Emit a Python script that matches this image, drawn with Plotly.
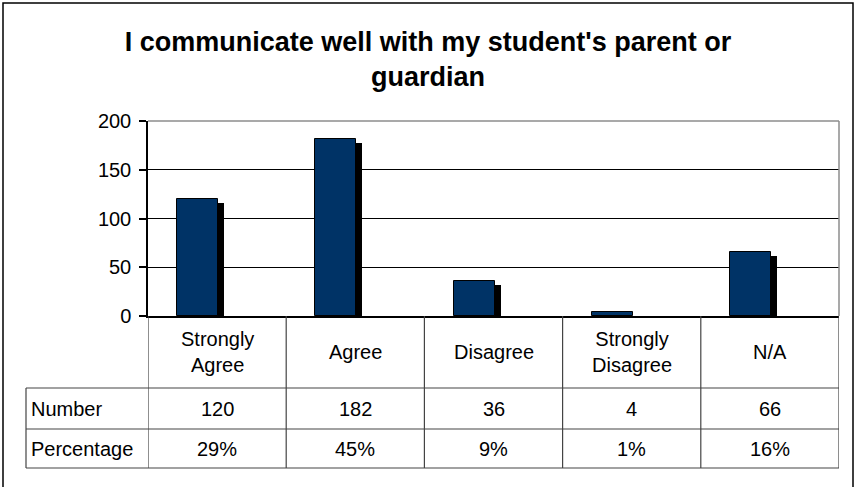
import plotly.graph_objects as go

# ---- data ----
categories = ["Strongly<br>Agree", "Agree", "Disagree", "Strongly<br>Disagree", "N/A"]
counts = [120, 182, 36, 4, 66]
percent_labels = ["29%", "45%", "9%", "1%", "16%"]
row_labels = ["Number", "Percentage"]
title_text = "I communicate well with my student's parent or<br>guardian"

# ---- layout constants (pixels) ----
W, H = 856, 487
L, R, T, B = 148, 17, 121, 171
plot_h = H - T - B
FONT = "Liberation Sans, Arial, sans-serif"
BAR_COLOR = "#003366"

def py(p):
    """pixel y (from top of page) -> paper y"""
    return (H - B - p) / plot_h

def px(p):
    plot_w = W - L - R
    return (p - L) / plot_w

n = len(categories)
xs = list(range(n))
bar_off = -0.14
bar_w = 0.297
shadow_dx = 0.043
shadow_dy = 4.2

fig = go.Figure()
# shadows
fig.add_trace(go.Bar(
    x=[x + bar_off + shadow_dx for x in xs],
    y=[max(v - shadow_dy, 0) for v in counts],
    width=bar_w, marker=dict(color="black", line=dict(width=0)),
    hoverinfo="skip", showlegend=False))
# bars
fig.add_trace(go.Bar(
    x=[x + bar_off for x in xs], y=counts, width=bar_w,
    marker=dict(color=BAR_COLOR, line=dict(color="black", width=1)),
    showlegend=False))

shapes = []
line_col = "#444444"
# plot-area top and right border (gray)
shapes.append(dict(type="line", xref="paper", yref="paper", x0=0, x1=1, y0=1, y1=1,
                   line=dict(color="#8c8c8c", width=1.5), layer="above"))
shapes.append(dict(type="line", xref="paper", yref="paper", x0=1, x1=1, y0=0, y1=1,
                   line=dict(color="#8c8c8c", width=1.5), layer="above"))
# table horizontal lines
for yy in [388, 429, 468]:
    shapes.append(dict(type="line", xref="paper", yref="paper", x0=px(26), x1=1,
                       y0=py(yy), y1=py(yy), line=dict(color=line_col, width=1.2)))
# table vertical lines at category boundaries
for i in range(n + 1):
    shapes.append(dict(type="line", xref="x", yref="paper", x0=i - 0.5, x1=i - 0.5,
                       y0=0, y1=py(468), line=dict(color=line_col, width=1.2)))
# table left border
shapes.append(dict(type="line", xref="paper", yref="paper", x0=px(26), x1=px(26),
                   y0=py(388), y1=py(468), line=dict(color=line_col, width=1.2)))
# outer chart border
shapes.append(dict(type="rect", xref="paper", yref="paper", x0=px(3), x1=px(853),
                   y0=py(495), y1=py(3), line=dict(color="black", width=1.5)))

tfont = dict(size=20, color="black", family=FONT)
annotations = []
for i, c in enumerate(categories):
    annotations.append(dict(x=i, y=py(352), xref="x", yref="paper", text=c,
                            showarrow=False, font=tfont, align="center",
                            xanchor="center", yanchor="middle"))
    annotations.append(dict(x=i, y=py(409), xref="x", yref="paper", text=str(counts[i]),
                            showarrow=False, font=tfont, xanchor="center", yanchor="middle"))
    annotations.append(dict(x=i, y=py(449), xref="x", yref="paper", text=percent_labels[i],
                            showarrow=False, font=tfont, xanchor="center", yanchor="middle"))
for lbl, yy in zip(row_labels, [409, 449]):
    annotations.append(dict(x=px(29), y=py(yy), xref="paper", yref="paper", text=lbl,
                            xanchor="left", yanchor="middle", showarrow=False, font=tfont))

fig.update_layout(
    width=W, height=H,
    margin=dict(l=L, r=R, t=T, b=B, pad=0),
    paper_bgcolor="white", plot_bgcolor="white",
    title=dict(text="<b>" + title_text + "</b>", x=0.5, xanchor="center",
               y=1 - 51 / H, yanchor="top",
               font=dict(size=27, color="black", family=FONT)),
    xaxis=dict(range=[-0.5, n - 0.5], showticklabels=False, showgrid=False,
               zeroline=False, showline=True, linecolor="black", linewidth=1.5,
               ticks="", fixedrange=True),
    yaxis=dict(range=[0, 200], dtick=50, showgrid=True, gridcolor="black", gridwidth=1,
               zeroline=False, showline=True, linecolor="black", linewidth=1.5,
               ticks="outside", ticklen=7, tickcolor="black", tickwidth=1.5,
               ticklabelstandoff=4,
               tickfont=dict(size=20, color="black", family=FONT)),
    bargap=0, barmode="overlay",
    shapes=shapes, annotations=annotations,
    showlegend=False,
)

fig.write_html("out.html", config={"displayModeBar": False},
               post_script="document.body.style.margin='0';")
